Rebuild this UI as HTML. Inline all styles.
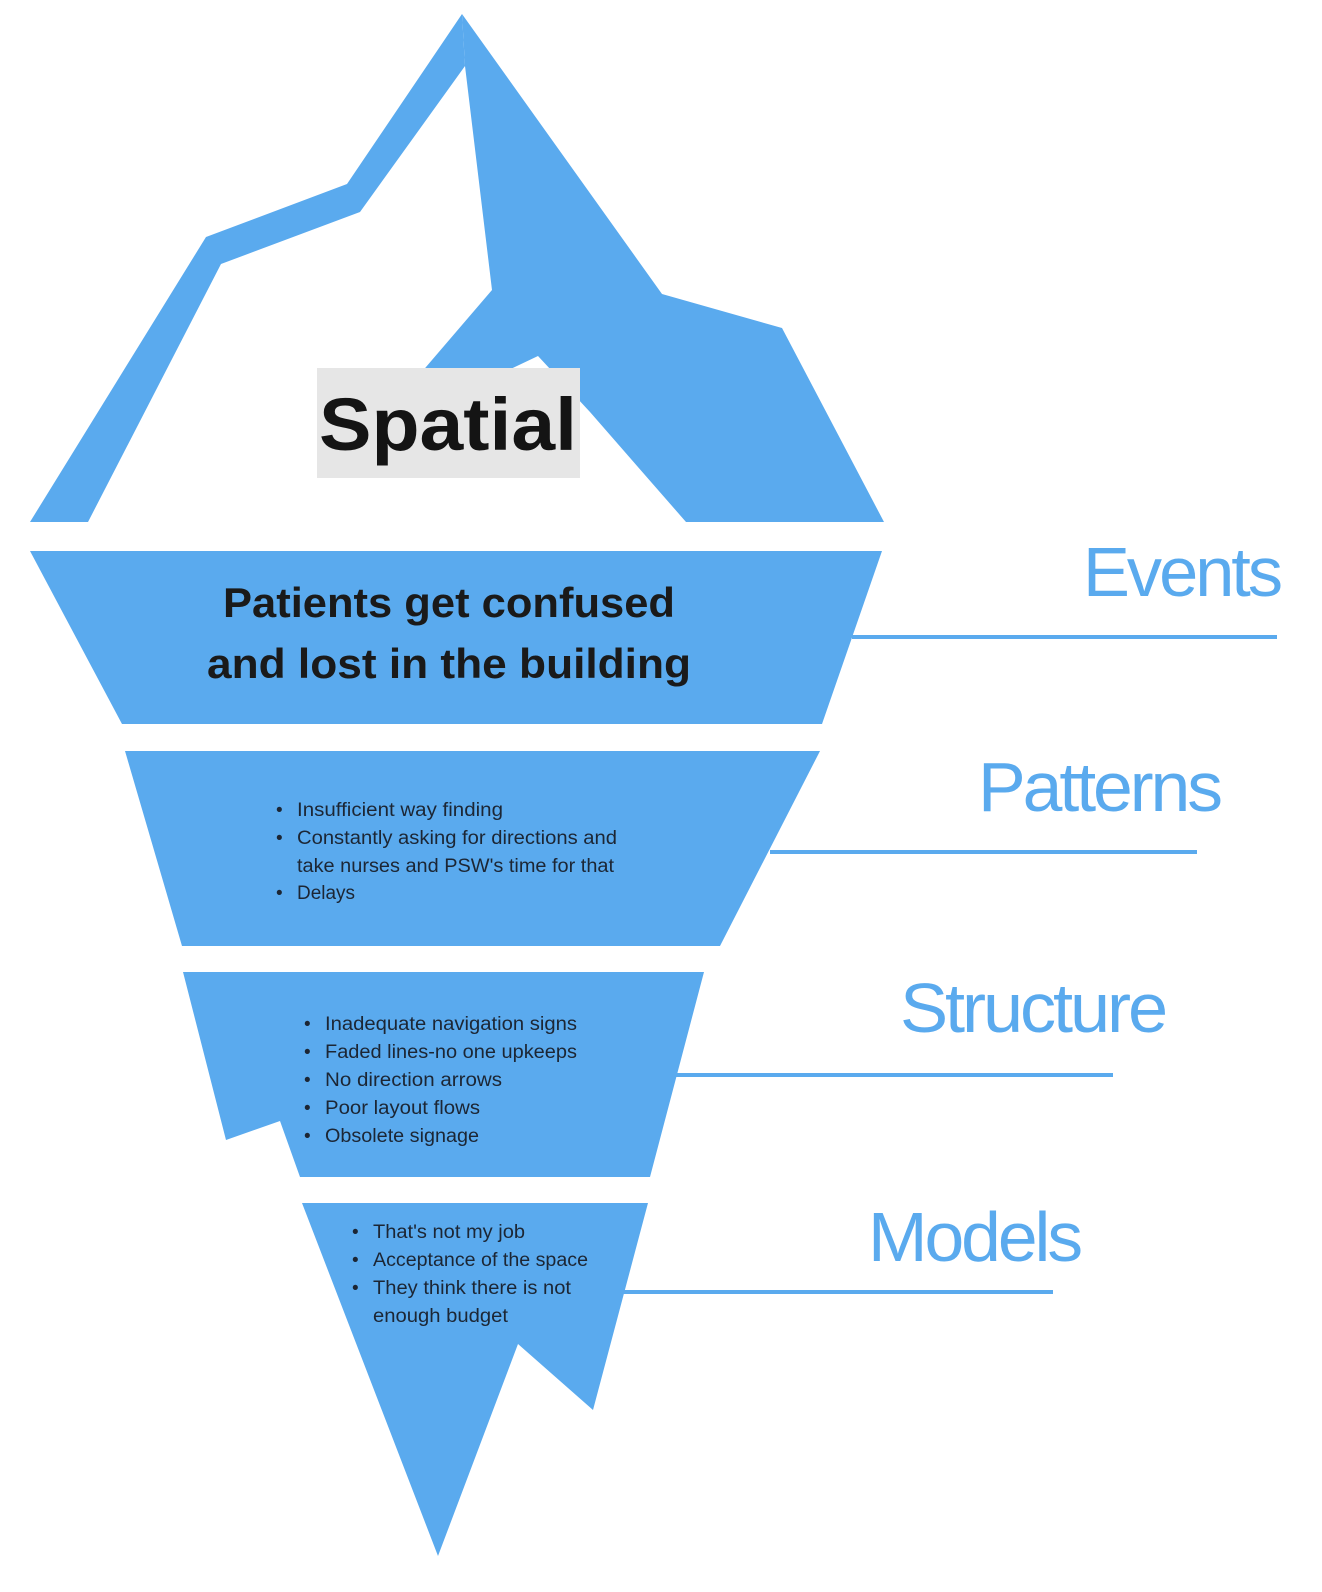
<!DOCTYPE html>
<html><head><meta charset="utf-8"><style>
html,body{margin:0;padding:0;background:#fff;width:1322px;height:1592px;overflow:hidden}
svg{display:block}
.b{font-family:"Liberation Sans",sans-serif;fill:#1c2634;font-size:19px}
.lab{font-family:"Liberation Sans",sans-serif;fill:#5aaaee;font-size:70px;letter-spacing:-3px}
</style></head><body>
<svg width="1322" height="1592" viewBox="0 0 1322 1592" xmlns="http://www.w3.org/2000/svg">
<g fill="#5aaaee">
<!-- top left ridge band -->
<polygon points="30,522 88,522 221,264 360,212 465,66 462,14 347,184 206,237"/>
<!-- top right mass -->
<polygon points="462,14 662,294 782,328 884,522 686,522 590,412 538,356 500,374 420,374 492,290 465,66"/>
<!-- events -->
<polygon points="30,551 882,551 822,724 122,724"/>
<!-- patterns -->
<polygon points="125,751 820,751 720,946 182,946"/>
<!-- structure -->
<polygon points="183,972 704,972 650,1177 300,1177 280,1121 226,1140"/>
<!-- models -->
<polygon points="302,1203 648,1203 593,1410 518,1344 438,1556"/>
</g>
<rect x="317" y="368" width="263" height="110" fill="#e6e6e6"/>
<text x="448" y="450" text-anchor="middle" font-family="Liberation Sans,sans-serif" font-weight="bold" font-size="74" fill="#141414" textLength="258" lengthAdjust="spacingAndGlyphs">Spatial</text>
<g font-family="Liberation Sans,sans-serif" font-weight="bold" font-size="42" fill="#1a1a1a" text-anchor="middle">
<text x="449" y="617" textLength="452" lengthAdjust="spacingAndGlyphs">Patients get confused</text>
<text x="449" y="678" textLength="484" lengthAdjust="spacingAndGlyphs">and lost in the building</text>
</g>
<g class="b">
<text x="276" y="816">•</text><text x="297" y="816" textLength="206" lengthAdjust="spacingAndGlyphs">Insufficient way finding</text>
<text x="276" y="844">•</text><text x="297" y="844" textLength="320" lengthAdjust="spacingAndGlyphs">Constantly asking for directions and</text>
<text x="297" y="872" textLength="317" lengthAdjust="spacingAndGlyphs">take nurses and PSW's time for that</text>
<text x="276" y="899">•</text><text x="297" y="899" textLength="58" lengthAdjust="spacingAndGlyphs">Delays</text>

<text x="304" y="1030">•</text><text x="325" y="1030" textLength="252" lengthAdjust="spacingAndGlyphs">Inadequate navigation signs</text>
<text x="304" y="1058">•</text><text x="325" y="1058" textLength="252" lengthAdjust="spacingAndGlyphs">Faded lines-no one upkeeps</text>
<text x="304" y="1086">•</text><text x="325" y="1086" textLength="177" lengthAdjust="spacingAndGlyphs">No direction arrows</text>
<text x="304" y="1114">•</text><text x="325" y="1114" textLength="155" lengthAdjust="spacingAndGlyphs">Poor layout flows</text>
<text x="304" y="1142">•</text><text x="325" y="1142" textLength="154" lengthAdjust="spacingAndGlyphs">Obsolete signage</text>

<text x="352" y="1238">•</text><text x="373" y="1238" textLength="152" lengthAdjust="spacingAndGlyphs">That's not my job</text>
<text x="352" y="1266">•</text><text x="373" y="1266" textLength="215" lengthAdjust="spacingAndGlyphs">Acceptance of the space</text>
<text x="352" y="1294">•</text><text x="373" y="1294" textLength="198" lengthAdjust="spacingAndGlyphs">They think there is not</text>
<text x="373" y="1322" textLength="135" lengthAdjust="spacingAndGlyphs">enough budget</text>
</g>
<g fill="#5aaaee">
<rect x="852" y="635" width="425" height="4"/>
<rect x="770" y="850" width="427" height="4"/>
<rect x="676" y="1073" width="437" height="4"/>
<rect x="623" y="1290" width="430" height="4"/>
</g>
<text class="lab" x="1083" y="596" textLength="197" lengthAdjust="spacingAndGlyphs">Events</text>
<text class="lab" x="978" y="811" textLength="242" lengthAdjust="spacingAndGlyphs">Patterns</text>
<text class="lab" x="900" y="1032" textLength="265" lengthAdjust="spacingAndGlyphs">Structure</text>
<text class="lab" x="868" y="1261" textLength="212" lengthAdjust="spacingAndGlyphs">Models</text>
</svg>
</body></html>
